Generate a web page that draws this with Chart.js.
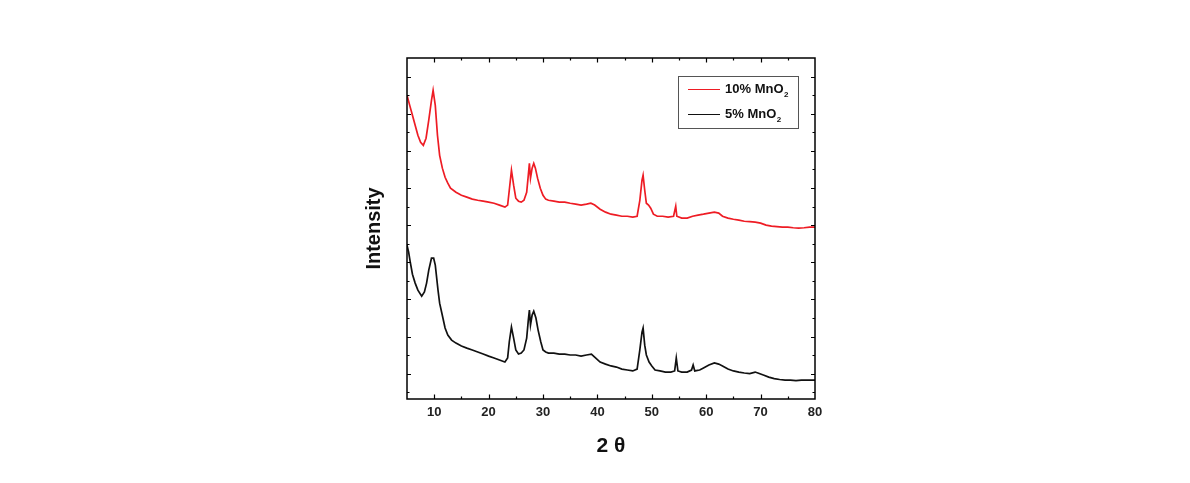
<!DOCTYPE html>
<html>
<head>
<meta charset="utf-8">
<script src="https://cdn.jsdelivr.net/npm/chart.js@4.4.1/dist/chart.umd.min.js"></script>
<style>
html,body{margin:0;padding:0;background:#fff;}
#wrap{width:1190px;height:483px;position:relative;}
</style>
</head>
<body>
<div id="wrap"><canvas id="c" width="1190" height="483"></canvas></div>
<script>
// ---- data ----
const seriesLabels = ['10% MnO2', '5% MnO2'];
const redX = [5.0,5.5,6.0,6.5,7.0,7.5,8.0,8.5,9.0,9.5,9.8,10.2,10.6,11.0,11.5,12.0,12.5,13.0,14.0,15.0,16.0,17.0,18.0,19.0,20.0,21.0,22.0,23.0,23.5,23.8,24.2,24.6,25.0,25.5,26.0,26.5,27.0,27.3,27.5,27.7,28.0,28.3,28.6,29.0,29.5,30.0,30.5,31.0,32,33,34,35,36,37,38,38.8,39.5,40.5,41.5,42.5,43.5,44.5,45.5,46.5,47.3,47.8,48.2,48.4,48.7,49.0,49.4,49.8,50.3,51,52,53,54,54.4,54.6,55.5,56.5,57.5,58.5,59.5,60.5,61.5,62.3,63.0,64.0,65,66,67,68,69,70,71,72,73,74,75,76,77,78,79,80];
const redY = [1599,1545,1492,1438,1384,1346,1330,1368,1465,1572,1626,1545,1384,1276,1207,1158,1126,1099,1077,1061,1051,1040,1034,1029,1024,1018,1008,997,1008,1088,1196,1115,1045,1029,1024,1034,1077,1169,1233,1153,1207,1233,1207,1153,1099,1061,1040,1034,1029,1024,1024,1018,1013,1008,1013,1018,1008,986,970,959,954,948,948,943,948,1034,1142,1169,1088,1018,1008,991,959,948,948,943,948,1002,948,938,938,948,954,959,965,970,965,948,938,932,927,921,919,916,911,900,895,892,889,889,886,884,886,889,889];
const blackX = [5.0,5.3,5.6,6.0,6.5,7.0,7.7,8.2,8.6,9.0,9.5,9.9,10.2,10.7,11.0,11.4,12.0,12.5,13.2,14.0,15.0,16.0,17.0,18.0,19.0,20.0,21.0,22.0,23.0,23.5,23.8,24.2,24.6,25.0,25.5,26.0,26.5,27.0,27.3,27.5,27.7,28.0,28.3,28.7,29.1,29.6,30.0,30.5,31.0,32,33,34,35,36,37,38,38.9,39.5,40.5,41.5,42.5,43.5,44.5,45.5,46.5,47.3,47.8,48.2,48.4,48.7,49.0,49.5,50.0,50.6,51.5,52.5,53.5,54.2,54.5,54.8,55.5,56.5,57.3,57.6,57.9,58.8,59.5,60.5,61.5,62.3,63.0,64.0,65.0,66.0,67.0,68.0,69.0,69.5,70.5,71.5,72.5,73.5,74.5,75.5,76.5,77.5,78.5,79.5,80];
const blackY = [792,755,701,636,588,550,518,540,588,658,722,722,685,550,480,427,346,308,281,265,249,238,228,217,206,195,185,174,163,185,271,351,292,228,206,211,228,292,389,443,362,416,437,400,335,271,228,217,211,211,206,206,201,201,195,201,206,190,163,152,142,136,125,120,115,125,228,324,346,254,201,163,142,120,115,109,109,115,185,115,109,109,120,147,115,120,131,147,158,152,142,125,115,109,104,101,109,104,93,82,74,69,66,66,63,66,66,66,66];
const xTickValues = [10,20,30,40,50,60,70,80];
const xMinorValues = [15,25,35,45,55,65,75];
const yTickValues = [0,100,200,300,400,500,600,700,800,900,1000,1100,1200,1300,1400,1500,1600,1700];
const xTitle = '2 θ';
const yTitle = 'Intensity';
const seriesColors = ['#ee1c24', '#111111'];

const toPts = (xs, ys) => xs.map((x, i) => ({x: x, y: ys[i]}));

const framePlugin = {
  id: 'frame',
  afterDatasetsDraw(chart) {
    const {ctx, chartArea: a, scales} = chart;
    const xs = scales.x, ys = scales.y;
    ctx.save();
    ctx.strokeStyle = '#000';
    ctx.lineWidth = 1.5;
    ctx.strokeRect(a.left, a.top, a.right - a.left, a.bottom - a.top);
    ctx.lineWidth = 1.2;
    ctx.beginPath();
    const xt = (vals, len) => vals.forEach(v => {
      const p = Math.round(xs.getPixelForValue(v)) + 0.5;
      ctx.moveTo(p, a.bottom); ctx.lineTo(p, a.bottom - len);
      ctx.moveTo(p, a.top); ctx.lineTo(p, a.top + len);
    });
    xt(xTickValues.filter(v => v < 80), 4.5);
    xt(xMinorValues, 2.5);
    yTickValues.forEach((v, i) => {
      const p = Math.round(ys.getPixelForValue(v)) + 0.5;
      const len = (i % 2 === 1) ? 4 : 2.5;
      ctx.moveTo(a.left, p); ctx.lineTo(a.left + len, p);
      ctx.moveTo(a.right, p); ctx.lineTo(a.right - len, p);
    });
    ctx.stroke();

    // legend box
    const lx = 678, ly = 76, lw = 120, lh = 52;
    ctx.lineWidth = 1;
    ctx.strokeStyle = '#555';
    ctx.fillStyle = '#fff';
    ctx.fillRect(lx, ly, lw, lh);
    ctx.strokeRect(lx + 0.5, ly + 0.5, lw, lh);
    chart.data.datasets.forEach((ds, i) => {
      const yy = ly + 13 + i * 25;
      ctx.strokeStyle = ds.borderColor;
      ctx.lineWidth = 1;
      ctx.beginPath();
      ctx.moveTo(lx + 10, yy + 0.5); ctx.lineTo(lx + 42, yy + 0.5);
      ctx.stroke();
      const lab = ds.label;
      const main = lab.slice(0, -1), sub = lab.slice(-1);
      ctx.fillStyle = '#111';
      ctx.textBaseline = 'middle';
      ctx.textAlign = 'left';
      ctx.font = 'bold 13px "Liberation Sans", Arial, sans-serif';
      ctx.fillText(main, lx + 47, yy);
      const w = ctx.measureText(main).width;
      ctx.font = 'bold 8px "Liberation Sans", Arial, sans-serif';
      ctx.fillText(sub, lx + 47 + w + 0.5, yy + 6);
    });
    ctx.restore();
  }
};

new Chart(document.getElementById('c'), {
  type: 'line',
  data: {
    datasets: [
      {label: seriesLabels[0], data: toPts(redX, redY), borderColor: seriesColors[0], borderWidth: 1.7, pointRadius: 0, tension: 0, fill: false},
      {label: seriesLabels[1], data: toPts(blackX, blackY), borderColor: seriesColors[1], borderWidth: 1.7, pointRadius: 0, tension: 0, fill: false}
    ]
  },
  options: {
    responsive: false,
    animation: false,
    layout: {padding: {left: 358, right: 375, top: 58, bottom: 20}},
    plugins: {legend: {display: false}, tooltip: {enabled: false}},
    scales: {
      x: {
        type: 'linear', min: 5, max: 80,
        afterBuildTicks: s => { s.ticks = xTickValues.map(v => ({value: v})); },
        afterFit: s => { s.height = 64; },
        grid: {display: false, drawTicks: false},
        border: {display: false},
        ticks: {color: '#222', padding: 6, font: {family: '"Liberation Sans", Arial, sans-serif', size: 13, weight: 'bold'}},
        title: {display: true, text: xTitle, color: '#111', padding: {top: 4, bottom: 4}, font: {family: '"Liberation Sans", Arial, sans-serif', size: 21, weight: 'bold'}}
      },
      y: {
        type: 'linear', min: -36, max: 1800,
        afterBuildTicks: s => { s.ticks = yTickValues.map(v => ({value: v})); },
        afterFit: s => { s.width = 49; },
        grid: {display: false, drawTicks: false},
        border: {display: false},
        ticks: {display: false},
        title: {display: true, text: yTitle, color: '#111', padding: {top: 4, bottom: 4}, font: {family: '"Liberation Sans", Arial, sans-serif', size: 20, weight: 'bold'}}
      }
    }
  },
  plugins: [framePlugin]
});
</script>
</body>
</html>
